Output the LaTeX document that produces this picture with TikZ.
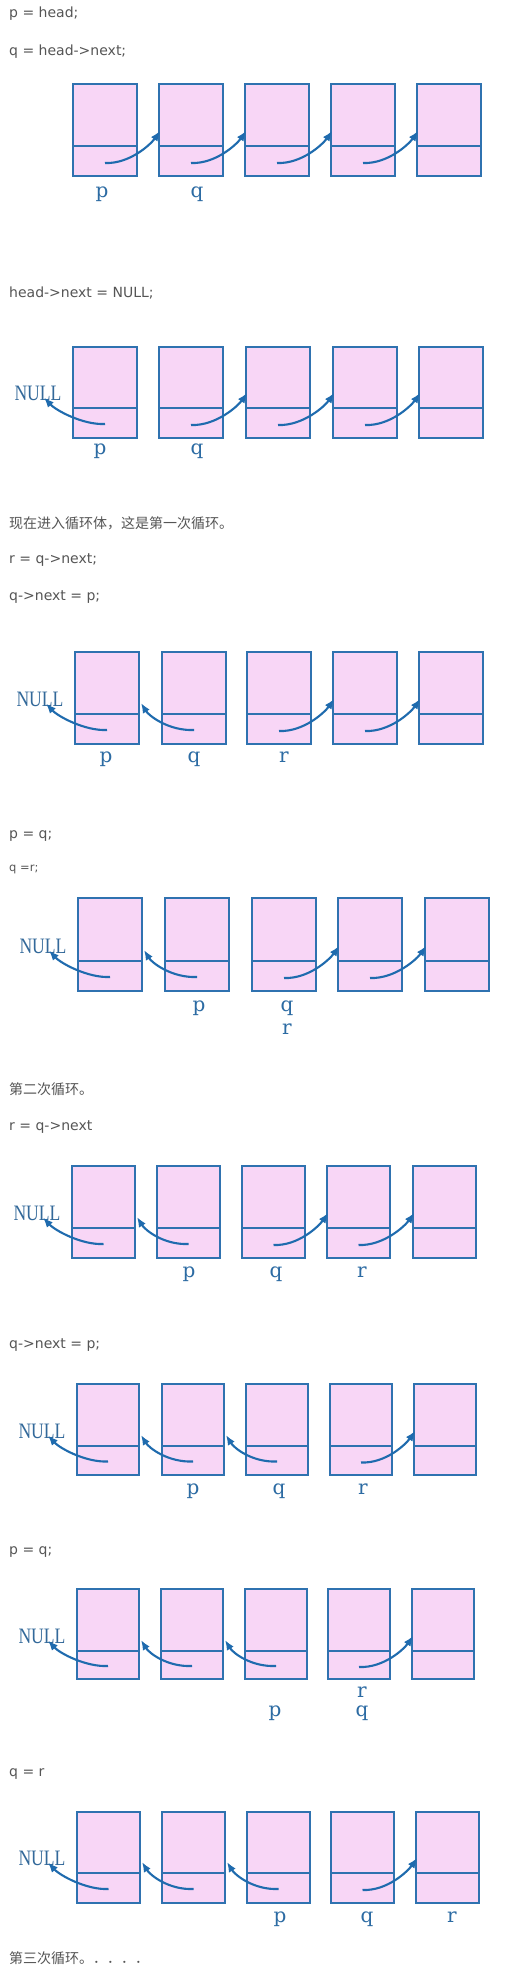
\documentclass[tikz,border=0pt]{standalone}
\usepackage{fontspec}
\usepackage{graphicx}
\setmainfont{Liberation Serif}
\newfontfamily\cjk{Noto Sans CJK SC}
\newfontfamily\codefont{DejaVu Sans}
\newfontfamily\lblfont{DejaVu Serif}
\newfontfamily\nlfont{Liberation Serif}
\usetikzlibrary{arrows.meta,calc}
\definecolor{boxfill}{HTML}{F8D6F6}
\definecolor{boxline}{HTML}{2F72B0}
\definecolor{arrowc}{HTML}{1F6BAE}
\definecolor{lblc}{HTML}{2C6BA3}
\definecolor{nullc}{HTML}{33699A}
\definecolor{txtc}{HTML}{555555}
\tikzset{
 cell/.style={draw=boxline, fill=boxfill, line width=1.7pt, inner sep=0pt, outer sep=0pt},
 link/.style={draw=arrowc, line width=2.1pt, -{Latex[length=10pt,width=8pt]}},
 lbl/.style={text=lblc, font=\lblfont\fontsize{20}{20}\selectfont, anchor=base, inner sep=0pt},
 nulltxt/.style={text=nullc, font=\nlfont\fontsize{22}{22}\selectfont, inner sep=0pt},
 code/.style={text=txtc, font=\codefont\fontsize{14}{14}\selectfont, anchor=west, inner sep=0pt},
 cn/.style={text=txtc, font=\cjk\fontsize{14}{14}\selectfont, anchor=west, inner sep=0pt},
}
% chain of five cells: prefix, top y, width, upper height, lower height, list of left x
\newcommand{\mkchain}[6]{%
 \foreach \xx [count=\i] in {#6} {
  \node[cell, minimum width=#3pt, minimum height=#4pt, anchor=north west] (#1t\i) at (\xx,#2) {};
  \node[cell, minimum width=#3pt, minimum height=#5pt, anchor=north] (#1b\i) at (#1t\i.south) {};
 }}
\newcommand{\fwd}[2]{%
  \pgfmathtruncatemacro\nxt{#2+1}%
  \draw[link] ($(#1b#2.center)+(0,2)$) .. controls +(25,1) and +(-9,13) .. ($(#1t\nxt.south west)+(1,-15)$);
}
\newcommand{\bwd}[2]{%
  \pgfmathtruncatemacro\prv{#2-1}%
  \draw[link] ($(#1b#2.center)+(0,1)$) .. controls +(-25,1) and +(8,13) .. ($(#1t\prv.south east)+(2,-11)$);
}
\newcommand{\tonull}[1]{%
  \node[nulltxt] (#1null) at ($(#1t1.south west)+(-35,-15)$) {\scalebox{0.8}[1]{NULL}};
  \draw[link] ($(#1b1.center)+(0,1)$) .. controls +(-22,1) and +(12,13) .. ($(#1null.south)+(6,-3)$);
}
\begin{document}
\begin{tikzpicture}[x=1pt,y=-1pt]
\fill[white] (0,0) rectangle (513,1976);
\useasboundingbox (0,0) rectangle (513,1976);

% ---- diagram 1
\node[code] (l1) at (9,14) {p = head;};
\node[code] (l2) at (9,52) {q = head->next;};
\mkchain{a}{84}{64}{62}{30}{73,159,245,331,417}
\fwd{a}{1}\fwd{a}{2}\fwd{a}{3}\fwd{a}{4}
\node[lbl] (ap) at (102,197) {p};
\node[lbl] (aq) at (197,197) {q};

% ---- diagram 2
\node[code] (l3) at (9,293) {head->next = NULL;};
\mkchain{b}{347}{64}{61}{30}{73,159,246,333,419}
\tonull{b}\fwd{b}{2}\fwd{b}{3}\fwd{b}{4}
\node[lbl] (bp) at (100,454) {p};
\node[lbl] (bq) at (197,454) {q};

% ---- diagram 3
\node[cn] (l4) at (9,523) {现在进入循环体，这是第一次循环。};
\node[code] (l5) at (9,560) {r = q->next;};
\node[code] (l6) at (9,597) {q->next = p;};
\mkchain{c}{652}{64}{62}{30}{75,162,247,333,419}
\tonull{c}\bwd{c}{2}\fwd{c}{3}\fwd{c}{4}
\node[lbl] (cp) at (106,762) {p};
\node[lbl] (cq) at (194,762) {q};
\node[lbl] (cr) at (284,762) {r};

% ---- diagram 4
\node[code] (l7) at (9,836) {p = q;};
\node[code, font=\codefont\fontsize{11.5}{12}\selectfont] (l8) at (9,869) {q =r;};
\mkchain{d}{898}{64}{63}{30}{78,165,252,338,425}
\tonull{d}\bwd{d}{2}\fwd{d}{3}\fwd{d}{4}
\node[lbl] (dp) at (199,1011) {p};
\node[lbl] (dq) at (287,1011) {q};
\node[lbl] (dr) at (287,1034) {r};

% ---- diagram 5
\node[cn] (l9) at (9,1089) {第二次循环。};
\node[code] (l10) at (9,1127) {r = q->next};
\mkchain{e}{1166}{63}{62}{30}{72,157,242,327,413}
\tonull{e}\bwd{e}{2}\fwd{e}{3}\fwd{e}{4}
\node[lbl] (ep) at (189,1277) {p};
\node[lbl] (eq) at (276,1277) {q};
\node[lbl] (er) at (362,1277) {r};

% ---- diagram 6
\node[code] (l11) at (9,1345) {q->next = p;};
\mkchain{f}{1384}{62}{62}{29}{77,162,246,330,414}
\tonull{f}\bwd{f}{2}\bwd{f}{3}\fwd{f}{4}
\node[lbl] (fp) at (193,1494) {p};
\node[lbl] (fq) at (279,1494) {q};
\node[lbl] (fr) at (363,1494) {r};

% ---- diagram 7
\node[code] (l12) at (9,1552) {p = q;};
\mkchain{g}{1589}{62}{62}{28}{77,161,245,328,412}
\tonull{g}\bwd{g}{2}\bwd{g}{3}\fwd{g}{4}
\node[lbl] (gp) at (275,1716) {p};
\node[lbl] (gr) at (362,1697) {r};
\node[lbl] (gq) at (362,1716) {q};

% ---- diagram 8
\node[code] (l13) at (9,1774) {q = r};
\mkchain{h}{1812}{63}{61}{30}{77,162,247,331,416}
\tonull{h}\bwd{h}{2}\bwd{h}{3}\fwd{h}{4}
\node[lbl] (hp) at (280,1922) {p};
\node[lbl] (hq) at (367,1922) {q};
\node[lbl] (hr) at (452,1922) {r};
\node[cn] (l14) at (9,1958) {第三次循环。．．．．};
\end{tikzpicture}
\end{document}
